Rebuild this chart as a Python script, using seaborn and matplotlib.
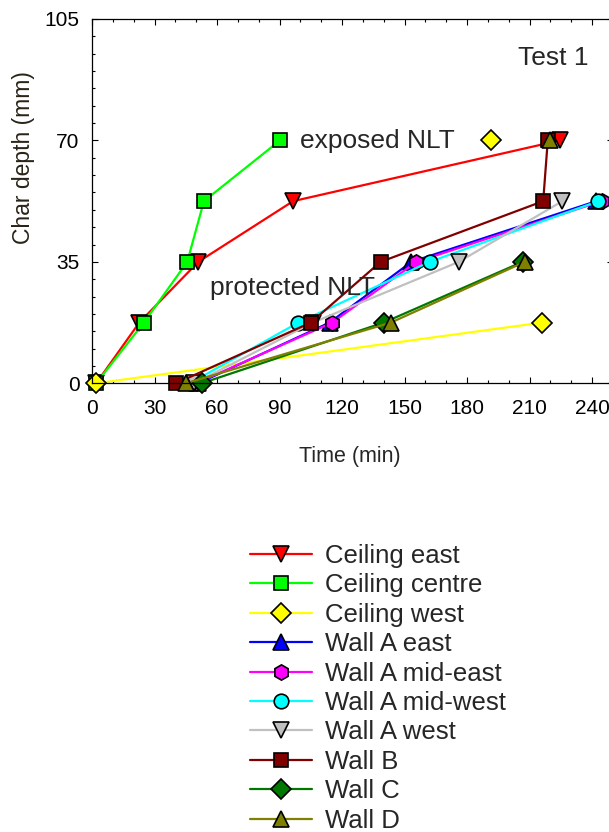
import numpy as np
import pandas as pd
import matplotlib
matplotlib.use("Agg")
import matplotlib.pyplot as plt
import seaborn as sns
from matplotlib.ticker import MultipleLocator

# ---- data (time in minutes at which each char depth was reached) ----
depth = [0, 17.5, 35, 52.5, 70]
series_names = ["Ceiling east", "Ceiling centre", "Ceiling west", "Wall A east",
                "Wall A mid-east", "Wall A mid-west", "Wall A west", "Wall B",
                "Wall C", "Wall D"]
nan = np.nan
ceiling_east = [2, 22.7, 51, 96.5, 224.5]
ceiling_centre = [2, 24.9, 45.7, 53.7, 90.2]
ceiling_west = [2, 216, nan, nan, 191.4]
wall_a_east = [51, 114, 153.3, 242, nan]
wall_a_mid_east = [50, 115.3, 155.7, 244.5, nan]
wall_a_mid_west = [47, 99, 162, 243, nan]
wall_a_west = [49, 106, 176, 225.7, nan]
wall_b = [40.3, 105, 138.5, 216.5, 218.7]
wall_c = [52.6, 140, 206.6, nan, nan]
wall_d = [45, 143.4, 207.7, nan, 219.7]
series_times = [ceiling_east, ceiling_centre, ceiling_west, wall_a_east,
                wall_a_mid_east, wall_a_mid_west, wall_a_west, wall_b,
                wall_c, wall_d]

colors = ["#ff0000", "#00ff00", "#ffff00", "#0000ff", "#ff00ff",
          "#00ffff", "#c0c0c0", "#800000", "#007800", "#808000"]
markers = ["v", "s", "D", "^", "h", "o", "v", "s", "D", "^"]
msizes = [11, 9.5, 10, 11, 11, 10.5, 11, 9.5, 10, 11]

sns.set_style("ticks")
plt.rcParams['font.family'] = ['Liberation Sans', 'DejaVu Sans']

rows = []
for name, times in zip(series_names, series_times):
    seg = 0
    for t, d in zip(times, depth):
        if np.isnan(t):
            seg += 1
            continue
        rows.append(dict(series=name, time=t, depth=d, seg=seg))
df = pd.DataFrame(rows)

fig = plt.figure(figsize=(6.09, 8.32), dpi=100)
ax = fig.add_axes([92 / 609, 1 - 383.3 / 832, 521 / 609, 364.3 / 832])

handles = []
for name, c, m, ms in zip(series_names, colors, markers, msizes):
    sub = df[df.series == name]
    n0 = len(ax.lines)
    sns.lineplot(data=sub, x="time", y="depth", units="seg", estimator=None,
                 sort=False, color=c, marker=m, markersize=ms,
                 markeredgecolor="black", markeredgewidth=1.2, linewidth=1.6,
                 ax=ax, clip_on=False, legend=False)
    handles.append(ax.lines[n0])

ax.set_xlim(0, 250)
ax.set_ylim(0, 105)
ax.xaxis.set_major_locator(MultipleLocator(30))
ax.xaxis.set_minor_locator(MultipleLocator(10))
ax.yaxis.set_major_locator(MultipleLocator(35))
ax.yaxis.set_minor_locator(MultipleLocator(5))
ax.tick_params(which="both", direction="in", top=True, right=True,
               colors="black", width=0.8)
ax.tick_params(which="major", length=4.5, labelsize=15)
ax.tick_params(which="minor", length=2.5)
ax.tick_params(axis="x", which="major", pad=11)
ax.tick_params(axis="y", which="major", pad=9)
for s in ax.spines.values():
    s.set_linewidth(0.9)
    s.set_color("black")

ax.set_xlabel("Time (min)", fontsize=15.5)
ax.set_ylabel("Char depth (mm)", fontsize=16.5, color="#2a2418")
ax.xaxis.set_label_coords((350 - 92) / 521, (383.3 - 446) / 364.3)
ax.yaxis.set_label_coords((35 - 92) / 521, (383.3 - 158) / 364.3)

ax.text(204.5, 91.7, "Test 1", fontsize=19, ha="left", va="baseline")
ax.text(99.8, 67.9, "exposed NLT", fontsize=19, ha="left", va="baseline")
ax.text(56.6, 25.4, "protected NLT", fontsize=19, ha="left", va="baseline")

fig.legend(handles, series_names, loc="upper left",
           bbox_to_anchor=(250 / 609, 1 - 544 / 832), frameon=False,
           fontsize=18.5, handlelength=2.4, handletextpad=0.5,
           labelspacing=0.21, borderpad=0, borderaxespad=0)

fig.savefig("out.png", dpi=100)
